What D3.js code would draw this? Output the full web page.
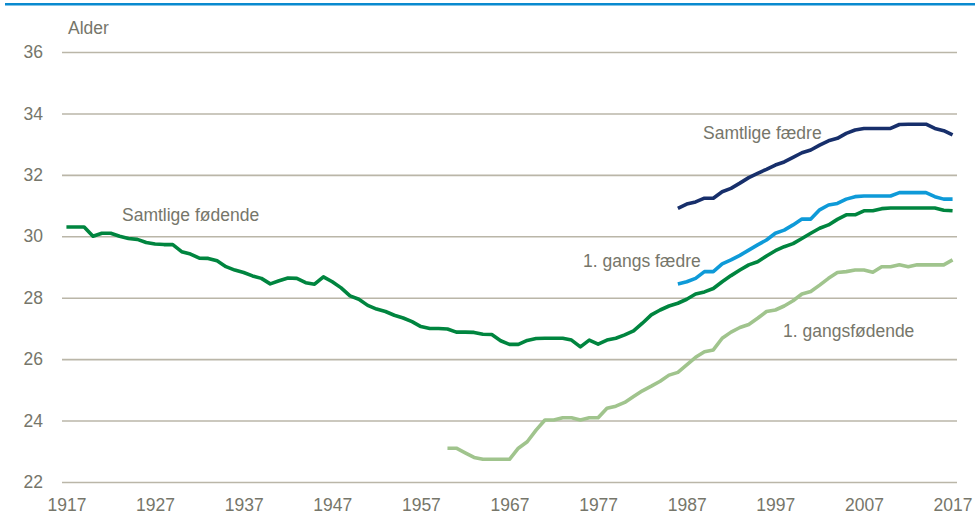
<!DOCTYPE html>
<html>
<head>
<meta charset="utf-8">
<script src="https://cdn.jsdelivr.net/npm/d3@7"></script>
<style>
  body { margin: 0; background: #fff; }
  svg text { font-family: "Liberation Sans", Arial, sans-serif; fill: #76766a; }
</style>
</head>
<body>
<div id="vis"></div>
<script>
// values (age, years)
const yTicks = [22, 24, 26, 28, 30, 32, 34, 36];
const xTicks = [1917, 1927, 1937, 1947, 1957, 1967, 1977, 1987, 1997, 2007, 2017];

// Samtlige fødende, 1917-2017
const samtligeFodende = [
  30.3, 30.3, 30.3, 30.0, 30.1, 30.1, 30.0, 29.93, 29.9, 29.8,
  29.75, 29.73, 29.73, 29.5, 29.42, 29.29, 29.28, 29.2, 29.01, 28.9,
  28.82, 28.71, 28.63, 28.45, 28.55, 28.64, 28.63, 28.49, 28.44, 28.68,
  28.52, 28.32, 28.06, 27.95, 27.75, 27.63, 27.55, 27.43, 27.34, 27.22,
  27.06, 27.0, 27.0, 26.98, 26.88, 26.88, 26.87, 26.81, 26.8, 26.6,
  26.48, 26.48, 26.61, 26.67, 26.68, 26.68, 26.68, 26.62, 26.4, 26.62,
  26.49, 26.62, 26.68, 26.79, 26.92, 27.17, 27.44, 27.6, 27.73, 27.82,
  27.95, 28.12, 28.19, 28.3, 28.52, 28.72, 28.9, 29.07, 29.17, 29.36,
  29.53, 29.66, 29.76, 29.93, 30.1, 30.26, 30.37, 30.55, 30.7, 30.7,
  30.83, 30.83, 30.9, 30.92, 30.92, 30.92, 30.92, 30.92, 30.92, 30.85,
  30.83
];

// Samtlige fædre, 1986-2017
const samtligeFaedre = [
  30.91, 31.05, 31.12, 31.24, 31.24, 31.45, 31.56, 31.73, 31.91, 32.05,
  32.18, 32.32, 32.42, 32.57, 32.72, 32.81, 32.97, 33.11, 33.19, 33.35,
  33.46, 33.51, 33.51, 33.51, 33.51, 33.64, 33.65, 33.65, 33.65, 33.51,
  33.44, 33.3
];

// 1. gangs fædre, 1986-2017
const gangsFaedre = [
  28.45, 28.52, 28.63, 28.85, 28.85, 29.1, 29.23, 29.38, 29.55, 29.72,
  29.88, 30.1, 30.2, 30.37, 30.56, 30.56, 30.86, 31.02, 31.07, 31.21,
  31.29, 31.31, 31.31, 31.31, 31.31, 31.42, 31.42, 31.42, 31.42, 31.29,
  31.21, 31.21
];

// 1. gangsfødende, 1960-2017
const gangsFodende = [
  23.1, 23.1, 22.95, 22.8, 22.74, 22.74, 22.74, 22.74, 23.1, 23.31,
  23.69, 24.02, 24.02, 24.09, 24.09, 24.02, 24.09, 24.09, 24.4, 24.47,
  24.59, 24.78, 24.97, 25.12, 25.28, 25.48, 25.57, 25.81, 26.06, 26.24,
  26.3, 26.68, 26.88, 27.03, 27.13, 27.33, 27.55, 27.6, 27.73, 27.9,
  28.12, 28.2, 28.41, 28.63, 28.82, 28.85, 28.9, 28.9, 28.83, 29.01,
  29.01, 29.07, 29.01, 29.07, 29.07, 29.07, 29.07, 29.23
];

const series = [
  {name: 'Samtlige fødende', start: 1917, values: samtligeFodende, color: '#00853f'},
  {name: '1. gangsfødende', start: 1960, values: gangsFodende, color: '#a0c48d'},
  {name: '1. gangs fædre', start: 1986, values: gangsFaedre, color: '#0e9ad8'},
  {name: 'Samtlige fædre', start: 1986, values: samtligeFaedre, color: '#172f6b'}
];

// label placement (text start x, baseline y)
const labels = [
  {text: 'Samtlige fødende', x: 122, y: 221},
  {text: 'Samtlige fædre', x: 703, y: 139},
  {text: '1. gangs fædre', x: 583, y: 267},
  {text: '1. gangsfødende', x: 783, y: 337}
];

const W = 975, H = 515;
const plot = {left: 62, right: 957, top: 52, bottom: 482};
const fs = '17.5px';

const svg = d3.select('#vis')
    .append('svg')
    .attr('width', W)
    .attr('height', H);

// blue rule along the top
svg.append('rect')
    .attr('x', 5).attr('y', 3)
    .attr('width', W - 5).attr('height', 2.5)
    .attr('fill', '#0a8acf');

const xScale = d3.scaleLinear()
    .domain([1916.5, 2017.5])
    .range([plot.left, plot.right]);

const yScale = d3.scaleLinear()
    .domain([22, 36])
    .range([plot.bottom, plot.top]);

// gridlines + y labels
const yAxis = d3.axisLeft(yScale)
    .tickValues(yTicks)
    .tickSize(-(plot.right - plot.left))
    .tickPadding(19);

const gy = svg.append('g')
    .attr('transform', `translate(${plot.left},0)`)
    .call(yAxis);
gy.select('.domain').remove();
gy.selectAll('.tick line').attr('stroke', '#bab6a8').attr('stroke-width', 1.6);
gy.selectAll('.tick text').style('font-size', fs);

// x labels
const xAxis = d3.axisBottom(xScale)
    .tickValues(xTicks)
    .tickFormat(d3.format('d'))
    .tickSize(0)
    .tickPadding(0);

const gx = svg.append('g')
    .attr('transform', `translate(0,${plot.bottom})`)
    .call(xAxis);
gx.select('.domain').remove();
gx.selectAll('.tick text')
    .attr('dy', null)
    .attr('y', 29)
    .style('font-size', fs);

svg.append('text')
    .attr('x', 68).attr('y', 34)
    .style('font-size', fs)
    .text('Alder');

const line = d3.line()
    .x(d => xScale(d.year))
    .y(d => yScale(d.value));

series.forEach(s => {
  const pts = s.values.map((v, i) => ({year: s.start + i, value: v}));
  svg.append('path')
      .datum(pts)
      .attr('fill', 'none')
      .attr('stroke', s.color)
      .attr('stroke-width', 3.6)
      .attr('stroke-linejoin', 'round')
      .attr('d', line);
});

svg.selectAll('.series-label')
    .data(labels)
    .join('text')
    .attr('class', 'series-label')
    .attr('x', d => d.x)
    .attr('y', d => d.y)
    .style('font-size', fs)
    .text(d => d.text);
</script>
</body>
</html>
